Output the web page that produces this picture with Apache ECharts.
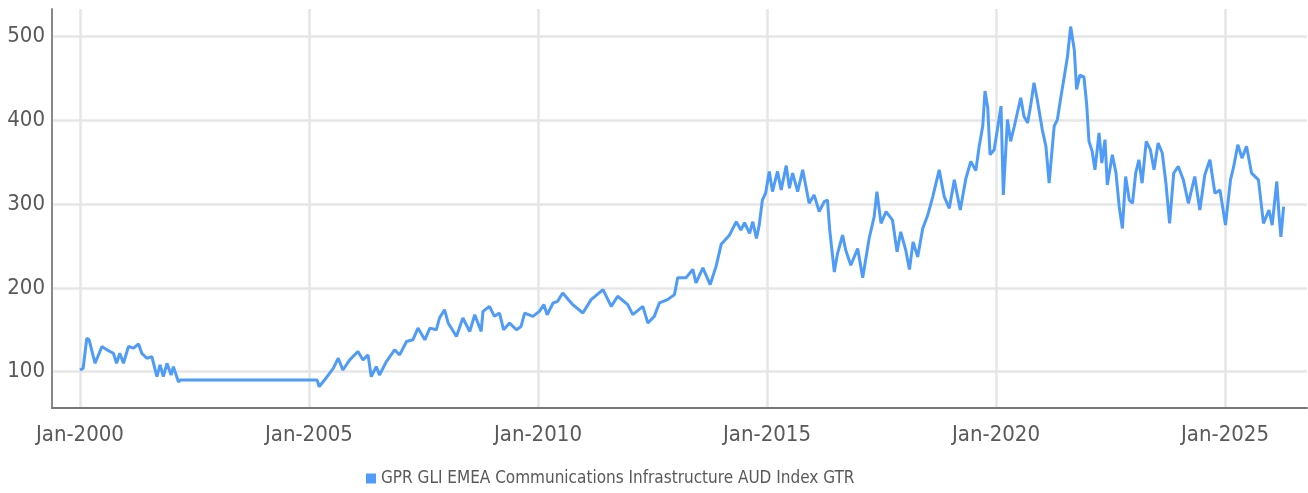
<!DOCTYPE html>
<html>
<head>
<meta charset="utf-8">
<script src="https://cdn.jsdelivr.net/npm/echarts@6/dist/echarts.min.js"></script>
<style>
  html, body { margin: 0; padding: 0; background: #fff; }
  #chart { width: 1308px; height: 493px; }
</style>
</head>
<body>
<div id="chart"></div>
<script>
// index level, x in decimal years
const years = [
  2000.0, 2000.07, 2000.15, 2000.2, 2000.33, 2000.48, 2000.59, 2000.73, 2000.8, 2000.87, 2000.95,
  2001.06, 2001.17, 2001.28, 2001.35, 2001.46, 2001.57, 2001.68, 2001.75, 2001.82, 2001.9, 2001.99,
  2002.04, 2002.15, 2002.2, 2005.18, 2005.22, 2005.34, 2005.53, 2005.64, 2005.74, 2005.89,
  2006.07, 2006.18, 2006.29, 2006.36, 2006.47, 2006.54, 2006.69, 2006.87, 2006.98,
  2007.13, 2007.27, 2007.38, 2007.53, 2007.64, 2007.78, 2007.85, 2007.96,
  2008.04, 2008.22, 2008.36, 2008.51, 2008.62, 2008.76, 2008.8, 2008.94,
  2009.05, 2009.16, 2009.25, 2009.38, 2009.53, 2009.63, 2009.71, 2009.89,
  2010.03, 2010.13, 2010.2, 2010.33, 2010.43, 2010.54, 2010.76, 2010.98,
  2011.16, 2011.42, 2011.6, 2011.74, 2011.96,
  2012.07, 2012.29, 2012.4, 2012.54, 2012.65, 2012.83, 2012.98,
  2013.05, 2013.23, 2013.38, 2013.45, 2013.6, 2013.76, 2013.89,
  2014.0, 2014.18, 2014.33, 2014.43, 2014.51, 2014.62, 2014.69, 2014.77, 2014.83, 2014.9, 2014.97,
  2015.05, 2015.12, 2015.23, 2015.31, 2015.42, 2015.49, 2015.56, 2015.67, 2015.78, 2015.92,
  2016.03, 2016.14, 2016.25, 2016.32, 2016.37, 2016.47, 2016.54, 2016.65, 2016.72, 2016.83, 2016.98,
  2017.09, 2017.23, 2017.34, 2017.4, 2017.49, 2017.6, 2017.74, 2017.84, 2017.92,
  2018.03, 2018.11, 2018.19, 2018.29, 2018.4, 2018.51, 2018.62, 2018.76, 2018.87, 2018.98,
  2019.09, 2019.22, 2019.34, 2019.45, 2019.56, 2019.63, 2019.71, 2019.76, 2019.82, 2019.87, 2019.96,
  2020.03, 2020.11, 2020.16, 2020.25, 2020.32, 2020.4, 2020.54, 2020.61, 2020.69, 2020.76, 2020.83, 2020.9,
  2021.01, 2021.09, 2021.16, 2021.27, 2021.34, 2021.42, 2021.49, 2021.56, 2021.63, 2021.71, 2021.76, 2021.83, 2021.92, 2021.98,
  2022.03, 2022.1, 2022.16, 2022.25, 2022.31, 2022.38, 2022.43, 2022.54, 2022.62, 2022.69, 2022.76, 2022.83, 2022.91, 2022.98,
  2023.05, 2023.12, 2023.19, 2023.28, 2023.37, 2023.45, 2023.54, 2023.63, 2023.71, 2023.79, 2023.88, 2023.98,
  2024.09, 2024.2, 2024.34, 2024.45, 2024.56, 2024.67, 2024.78, 2024.89,
  2025.01, 2025.12, 2025.19, 2025.28, 2025.37, 2025.47, 2025.58, 2025.73, 2025.84, 2025.96,
  2026.03, 2026.13, 2026.18, 2026.22, 2026.28
]
const values = [
  102, 104, 140, 138, 110, 130, 126, 122, 110, 122, 110,
  130, 128, 133, 122, 116, 118, 94, 108, 94, 110, 96,
  106, 88, 90, 90, 82, 90, 104, 116, 102, 114,
  124, 114, 120, 94, 106, 96, 112, 126, 120,
  136, 138, 152, 138, 152, 150, 164, 174,
  158, 142, 164, 148, 168, 148, 172, 178,
  166, 170, 150, 158, 150, 154, 170, 166,
  172, 180, 168, 182, 184, 194, 180, 170,
  186, 198, 178, 190, 180,
  168, 178, 158, 166, 182, 186, 192,
  212, 212, 222, 206, 224, 204, 226,
  252, 263, 279, 269, 278, 265, 279, 259, 275, 305, 313,
  339, 315, 339, 317, 346, 319, 337, 315, 341, 301,
  311, 291, 303, 305, 269, 219, 241, 263, 245, 227, 247,
  212, 259, 285, 315, 277, 291, 281, 243, 267,
  245, 222, 255, 237, 271, 287, 309, 341, 309, 295,
  329, 293, 330, 351, 340, 368, 393, 435, 415, 359, 365,
  389, 417, 311, 401, 375, 393, 427, 405, 397, 419, 445, 425,
  389, 369, 325, 393, 401, 429, 452, 476, 512, 484, 437, 454, 452, 419,
  375, 363, 341, 385, 349, 377, 323, 359, 337, 297, 271, 333, 305, 301,
  337, 353, 325, 375, 365, 341, 373, 361, 325, 277, 337, 345,
  329, 301, 333, 293, 335, 353, 313, 317,
  275, 329, 345, 371, 355, 369, 337, 329, 277, 293,
  275, 327, 287, 261, 297
]
const xTicks = [2000, 2005, 2010, 2015, 2020, 2025]
const yTicks = [100, 200, 300, 400, 500]
const seriesName = 'GPR GLI EMEA Communications Infrastructure AUD Index GTR'

const font = "'Liberation Sans Narrow', 'DejaVu Sans Condensed', sans-serif"
const lineColor = '#4f9cf8'

const chart = echarts.init(document.getElementById('chart'))

chart.setOption({
  animation: false,
  grid: {
    left: 52,
    right: 1,
    top: 9,
    bottom: 85,
    containLabel: false,
    outerBoundsMode: 'none'
  },
  legend: {
    bottom: 1,
    left: 361,
    icon: 'rect',
    itemWidth: 10,
    itemHeight: 10,
    itemGap: 4,
    textStyle: { fontFamily: font, fontSize: 17, color: '#595959' },
    data: [seriesName]
  },
  xAxis: {
    type: 'value',
    min: 1999.39,
    max: 2026.79,
    axisLine: { lineStyle: { color: '#777', width: 2 } },
    axisTick: { show: false, customValues: xTicks },
    axisLabel: {
      customValues: xTicks,
      formatter: (v) => 'Jan-' + v,
      color: '#595959',
      fontFamily: font,
      fontSize: 22,
      margin: 16
    },
    splitLine: { show: true, lineStyle: { color: '#e6e6e6', width: 2.5 } }
  },
  yAxis: {
    type: 'value',
    min: 56.6,
    max: 533,
    axisLine: { show: true, lineStyle: { color: '#888', width: 2 } },
    axisTick: { show: false, customValues: yTicks },
    axisLabel: {
      customValues: yTicks,
      color: '#595959',
      fontFamily: font,
      fontSize: 22,
      margin: 7
    },
    splitLine: { show: true, lineStyle: { color: '#e6e6e6', width: 2.5 } }
  },
  series: [
    {
      name: seriesName,
      type: 'line',
      data: years.map((y, i) => [y, values[i]]),
      showSymbol: false,
      symbol: 'none',
      lineStyle: { color: lineColor, width: 3 },
      itemStyle: { color: lineColor }
    }
  ]
})
</script>
</body>
</html>
